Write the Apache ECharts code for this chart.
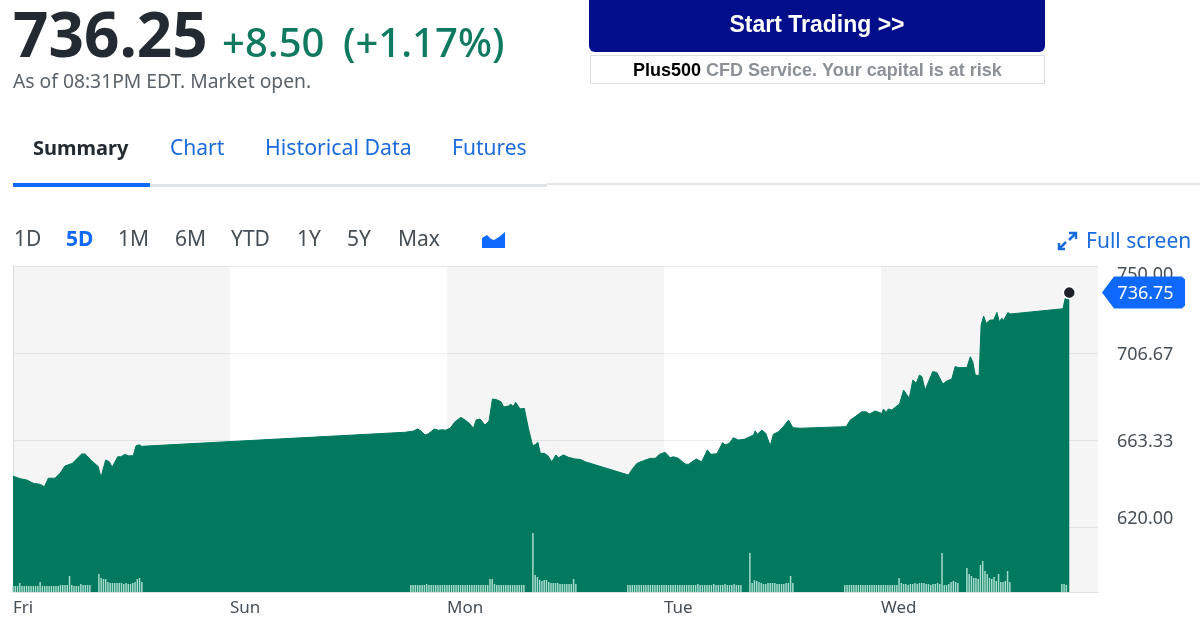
<!DOCTYPE html>
<html><head><meta charset="utf-8">
<style>html,body{margin:0;padding:0;background:#fff}#c{width:1200px;height:639px}</style>
<script src="https://cdn.jsdelivr.net/npm/echarts@6/dist/echarts.min.js"></script>
</head><body><div id="c"></div>
<script>
// x unit: 15-minute bars since Friday's open of the 5D window (96 per day)
const dayLabels = ['Fri','Sun','Mon','Tue','Wed'];
const shadedDays = [[0,96],[192,288],[384,480]];
const yTicks = [620, 663.33, 706.67, 750];
const lastPrice = 736.75;
const lastBar = 467.3;

const priceBars = [0,3.1,6.1,9,11.9,13.9,15.6,18.6,20.8,23,26.2,26.7,30.4,31.9,34.8,37.7,38.9,41,42.6,43.9,46.3,47.7,49.6,51,53.2,54.4,55.9,56.9,
173.5,177.1,179.1,180.5,182.3,183.8,186.4,188.2,190,191.2,193.4,195.6,198.2,200,201.8,203.7,204.9,206.6,208.8,210.6,212.1,214,215.9,217.1,219.2,220.2,221.3,222.4,224.3,226.2,228,229.9,231.3,232.2,233.3,235.1,236.6,238.4,240.2,241.3,243.5,245.8,248.7,250.9,253.1,
272.3,273.7,276,278.9,281.9,284.1,286,288.5,290.7,292.2,294.4,297.3,298.8,302.2,304.7,307.2,308.7,311.4,313.9,315,316.9,318.7,320.9,323.5,327.6,328.3,329.3,331.3,333,335,336.4,338.7,340.8,343.1,345,348.2,
368.6,370.4,372.6,375.5,377.4,378.9,381.4,384.4,385.1,386.2,387.3,388.8,392.2,394,396.5,398.1,399.6,401,402.1,403.5,406.9,408.7,411.4,413.1,415.3,416.8,418.3,422,423.5,424.6,425.7,427.4,
428.3,429.4,430.5,432.3,433.8,435.3,436.3,437.5,438.2,440.1,441.2,464.5,465.5,467.1,467.3];
const prices = [645.4,644.1,643.4,641.8,641.3,640.1,644.3,644.3,646.8,650.4,651.7,651.2,656.4,656.4,653.0,650.1,644.8,653.4,652.5,649.8,655.0,655.0,656.2,655.5,655.5,660.4,661.0,660.2,
667.2,667.8,668.8,667.8,665.8,666.5,668.8,668.2,668.5,668.2,669.2,672.5,674.6,673.3,671.7,669.2,673.3,673.8,670.8,672.8,683.8,683.4,682.4,679.8,680.3,681.1,680.1,682.1,678.8,679.1,669.2,660.5,661.2,662.2,656.7,656.7,655.5,652.5,655.9,654.5,655.9,654.7,653.9,653.7,652.5,
645.9,648.4,651.7,653.0,654.2,654.2,656.2,657.2,654.5,655.0,654.2,651.4,651.2,653.9,652.5,658.4,656.2,656.5,662.0,660.9,661.7,664.5,663.3,663.7,665.8,667.9,666.2,668.3,666.7,660.5,666.2,667.5,670.0,673.3,669.5,669.2,
670.0,673.3,675.0,677.4,677.4,676.3,677.8,676.6,678.8,677.1,678.8,678.3,681.3,688.2,684.1,693.2,691.6,695.7,694.9,688.2,697.4,697.0,691.2,692.7,693.7,699.9,699.4,699.4,704.8,702.3,695.7,695.4,
720.6,725.1,721.5,723.1,723.1,726.9,722.3,724.0,722.8,726.8,726.1,728.7,733.9,734.4,736.75];

// first bar index of each volume session, and that session's volumes
const volStarts = [0,38,176,230,272,326,368,422,464];
const volFriA = [6,6,6,9,6,6,6,6,6,6,6,6,10,6,6,6,6,6,6,6,6,7,7,7,7,16,7,6,6,6,8,7,7,7,7];
const volFriB = [18,14,13,13,10,9,9,9,9,9,9,8,9,8,8,9,10,13,14,10];
const volMonA = [7,7,7,7,7,7,7,8,7,7,7,7,7,7,7,7,7,7,7,7,7,7,7,7,7,7,7,7,7,7,7,7,7,7,7,13,13,8,7,7,7,7,7,7,7,7,7,7,7,7,7];
const volMonB = [59,17,15,12,11,12,12,10,9,9,9,9,8,8,8,8,8,8,13,8];
const volTueA = [7,7,7,7,7,7,7,7,7,7,7,7,7,7,7,7,7,7,7,7,7,7,7,7,7,7,7,7,7,7,7,8,7,7,7,7,7,7,8,7,7,7,7,8,7,7,7,8,7,7,7];
const volTueB = [39,9,12,11,10,9,8,8,9,9,9,9,8,8,8,8,9,9,16,9];
const volWedA = [7,7,7,7,7,7,7,7,7,7,7,7,7,7,7,7,7,7,7,7,7,7,7,7,14,9,8,8,7,8,8,9,8,9,9,9,8,8,7,8,8,9,8,39,7,7,8,10,11,10,9];
const volWedB = [24,18,16,14,14,13,27,31,21,18,14,13,15,11,18,10,10,11,21,10];
const volWedC = [8,8,7];
const volSessions = [volFriA,volFriB,volMonA,volMonB,volTueA,volTueB,volWedA,volWedB,volWedC];

const green='#00795e', blue='#0f69ff', ink='#464e56', F='"Noto Sans"';
const line = priceBars.map((b,i)=>[b,prices[i]]);
const vols = [];
volSessions.forEach((s,k)=>s.forEach((v,i)=>vols.push([volStarts[k]+i,v])));

const chart = echarts.init(document.getElementById('c'));
const labelStyle=p=>({padding:p,color:ink,fontFamily:F,fontSize:18});
const option = {
  animation:false, backgroundColor:'#fff',
  grid:{left:13,right:102,top:266,bottom:47,containLabel:false},
  xAxis:{type:'value',min:0,max:480,interval:96,
    axisLine:{show:true,lineStyle:{color:'#e0e4e9',width:1}},axisTick:{show:false},splitLine:{show:false},
    axisLabel:{formatter:v=>dayLabels[v/96]||'',align:'left',color:ink,fontFamily:F,fontSize:17,margin:8,showMaxLabel:false}},
  yAxis:[{type:'value',position:'right',min:587.65,max:750,
      axisLine:{show:true,lineStyle:{color:'#e0e4e9',width:1}},
      axisTick:{show:false,customValues:yTicks},
      splitLine:{show:true,lineStyle:{color:'#ebedef',width:1}},
      axisLabel:{customValues:yTicks,margin:19,color:ink,fontFamily:F,fontSize:18,
        formatter:v=>{const t=Number(v).toFixed(2);return (v===620?'{lo|':v===750?'{hi|':'{mid|')+t+'}';},
        rich:{lo:labelStyle([0,0,16,0]),hi:labelStyle([18,0,0,0]),mid:labelStyle([3,0,0,0])}}},
    {type:'value',position:'right',min:0,max:326,show:false}],
  series:[
    {name:'bands',type:'line',data:[],z:1,silent:true,
      markArea:{silent:true,itemStyle:{color:'rgba(0,0,0,0.04)'},data:shadedDays.map(d=>[{xAxis:d[0]},{xAxis:d[1]}])}},
    {name:'Price',type:'line',data:line,z:3,showSymbol:false,smooth:false,
      lineStyle:{color:green,width:1},itemStyle:{color:green},
      areaStyle:{color:green,opacity:1,origin:'start'}},
    {name:'Volume',type:'bar',yAxisIndex:1,data:vols,z:4,barWidth:1.5,itemStyle:{color:'#a5dbca'}},
    {name:'Last',type:'scatter',data:[[lastBar,lastPrice]],z:6,symbolSize:12,
      itemStyle:{color:'#1d2228',borderColor:'#fff',borderWidth:1.5,opacity:1}}
  ]
};
chart.setOption(option);

const T=(text,x,y,size,fill,weight,extra)=>({type:'text',z:20,style:Object.assign({text,x,y,fill,verticalAlign:'middle',
  font:(weight||400)+' '+size+'px '+F},extra||{})});
const R=(x,y,w,h,fill,r,stroke)=>({type:'rect',z:19,shape:{x,y,width:w,height:h,r:r||0},style:{fill,stroke:stroke||null,lineWidth:stroke?1:0}});
const tagY = chart.convertToPixel({yAxisIndex:0},lastPrice);
const FS='#1a6bdc';
const graphics=[
  T('736.25',13,39,62,'#232a31',700),
  T('+8.50',222,46,40,'#0f7a60',500),
  T('(+1.17%)',343,46,40,'#0f7a60',500),
  T('As of 08:31PM EDT. Market open.',13,83,19.3,'#5b636a',400),
  R(589,-6,456,58,'#000e8a',6),
  T('Start Trading >>',817,26,23,'#fff',700,{align:'center',font:'700 23px "Liberation Sans"'}),
  R(590.5,55.5,454,28,'#fff',0,'#dcdfe2'),
  T('Plus500',633,71,18,'#000',700,{font:'700 18px "Liberation Sans"'}),
  T('CFD Service. Your capital is at risk',706,71,18,'#8c9198',700,{font:'700 18px "Liberation Sans"'}),
  T('Summary',33,149,20,'#232a31',700),
  T('Chart',170,149,21,FS),T('Historical Data',265,149,21.3,FS),T('Futures',452,149,21,FS),
  R(547,183,653,2,'#e4e7eb'),R(150,184,397,3,'#e0e4e9'),R(13,183,137,4,blue),
  T('1D',14,240,21,ink),T('5D',66,240,21,blue,700),T('1M',118,240,21,ink),T('6M',175,240,21,ink),
  T('YTD',231,240,21,ink),T('1Y',297,240,21,ink),T('5Y',347,240,21,ink),T('Max',398,240,21,ink),
  {type:'polygon',z:20,shape:{points:[[482,248],[482,238],[487,235],[491,239],[494,240],[499,237],[505,232],[505,248]]},style:{fill:blue}},
  T('Full screen',1086,242,21,FS),
  {type:'polyline',z:20,shape:{points:[[1059,243],[1059,249],[1065,249]]},style:{stroke:FS,lineWidth:2.5,fill:null}},
  {type:'polyline',z:20,shape:{points:[[1059,249],[1066,242]]},style:{stroke:FS,lineWidth:2.5,fill:null}},
  {type:'polyline',z:20,shape:{points:[[1069,233],[1076,233],[1076,239]]},style:{stroke:FS,lineWidth:2.5,fill:null}},
  {type:'polyline',z:20,shape:{points:[[1076,233],[1069,240]]},style:{stroke:FS,lineWidth:2.5,fill:null}},
  {type:'polygon',z:21,shape:{points:[[1102,tagY],[1114,tagY-16],[1182,tagY-16],[1185,tagY-13],[1185,tagY+13],[1182,tagY+16],[1114,tagY+16]]},style:{fill:blue}},
  Object.assign(T(lastPrice.toFixed(2),1145.5,tagY+1,18,'#fff',400,{align:'center'}),{z:22})
];
chart.setOption({graphic:graphics});
</script></body></html>
